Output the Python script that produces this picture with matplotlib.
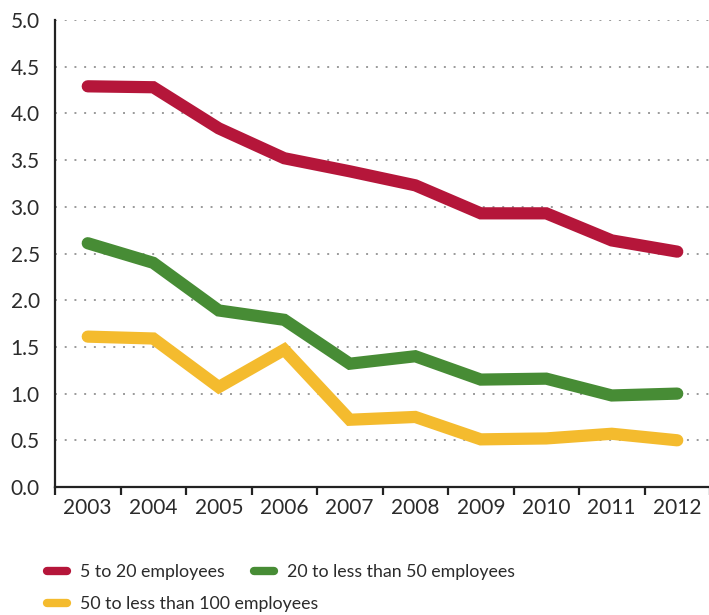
import matplotlib
matplotlib.use("Agg")
import matplotlib.pyplot as plt
import numpy as np

years = ["2003", "2004", "2005", "2006", "2007", "2008", "2009", "2010", "2011", "2012"]
small = [4.29, 4.28, 3.84, 3.52, 3.38, 3.23, 2.93, 2.93, 2.64, 2.52]
medium = [2.61, 2.40, 1.89, 1.79, 1.32, 1.40, 1.15, 1.16, 0.98, 1.00]
large = [1.61, 1.59, 1.07, 1.47, 0.72, 0.75, 0.51, 0.52, 0.57, 0.50]
series_labels = ["5 to 20 employees", "20 to less than 50 employees", "50 to less than 100 employees"]
colors = ["#B5163A", "#478C35", "#F4BB2E"]
yticks = [0.0, 0.5, 1.0, 1.5, 2.0, 2.5, 3.0, 3.5, 4.0, 4.5, 5.0]

plt.rcParams['font.family'] = ['Lato', 'DejaVu Sans']
txt = "#2b2b2b"

fig = plt.figure(figsize=(7.09, 6.15), dpi=100)
ax = fig.add_axes([55/709, 128/615, 655/709, 467/615])

x = np.arange(len(years))
handles = []
for vals, c, lab in zip([small, medium, large], colors, series_labels):
    h, = ax.plot(x, vals, color=c, lw=8.8, solid_capstyle='round',
                 solid_joinstyle='miter', label=lab, zorder=3)
    handles.append(h)

ax.set_xlim(-0.5, 9.5)
ax.set_ylim(0, 5.0)
ax.set_yticks(yticks)
ax.set_yticklabels([f"{v:.1f}" for v in yticks], fontsize=15, color=txt)
ax.set_xticks(x)
ax.set_xticklabels(years, fontsize=15, color=txt)
ax.set_xticks(np.arange(-0.5, 9.6, 1.0), minor=True)
ax.tick_params(axis='x', which='major', length=0, pad=8)
ax.tick_params(axis='x', which='minor', length=6, width=1.6, color='#222222', direction='out')
ax.tick_params(axis='y', length=0, pad=11)
for t in yticks[1:]:
    ax.axhline(t, color='#9a9a9a', lw=1.4, ls=(0, (1, 4)), zorder=1)

for s in ['top', 'right']:
    ax.spines[s].set_visible(False)
ax.spines['left'].set_color('#222222')
ax.spines['left'].set_linewidth(1.6)
ax.spines['bottom'].set_color('#222222')
ax.spines['bottom'].set_linewidth(1.6)

legkw = dict(frameon=False, fontsize=12.8, handlelength=1.1, handletextpad=0.75,
             columnspacing=1.65, borderaxespad=0, borderpad=0)
leg1 = fig.legend(handles=[handles[0], handles[1]], loc='center left',
                  bbox_to_anchor=(47/709, 1 - 572/615), ncol=2, **legkw)
leg2 = fig.legend(handles=[handles[2]], loc='center left',
                  bbox_to_anchor=(47/709, 1 - 604/615), ncol=1, **legkw)
for leg in (leg1, leg2):
    for t in leg.get_texts():
        t.set_color(txt)
    for l in leg.get_lines():
        l.set_linewidth(6)
        l.set_solid_capstyle('round')

fig.savefig("out.png", dpi=100)
